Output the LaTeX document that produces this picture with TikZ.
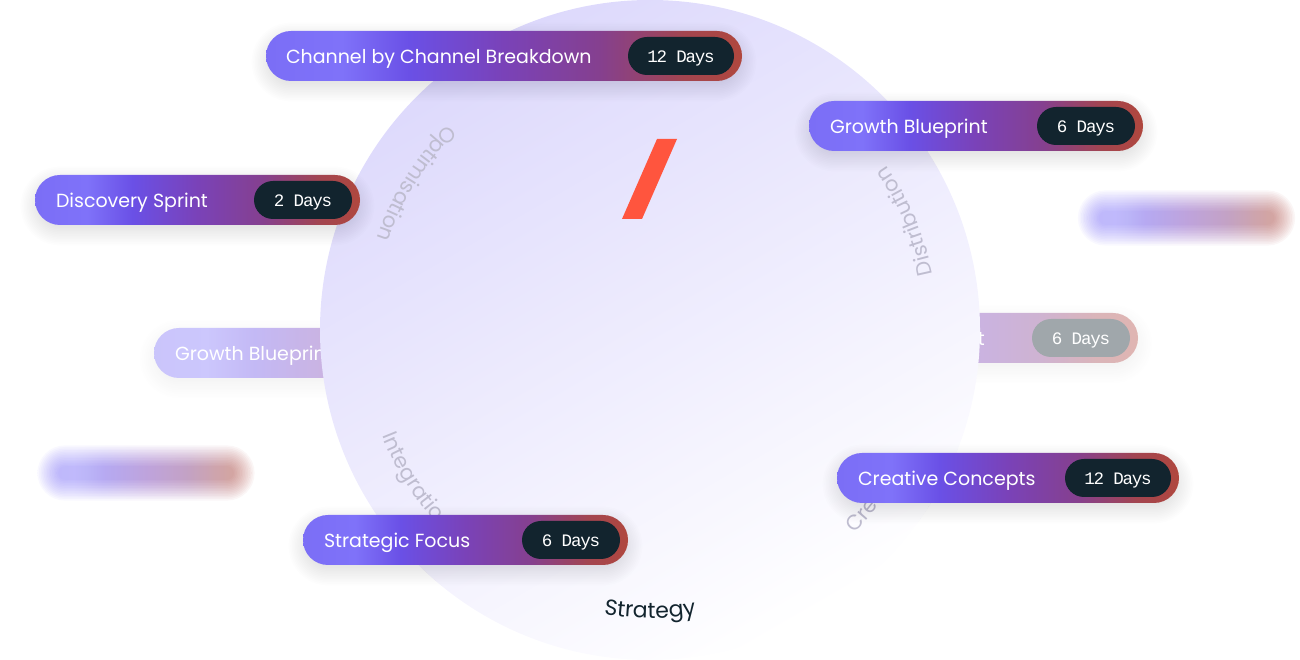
\documentclass[tikz,border=0pt]{standalone}
\usepackage{fontspec}
\setmainfont{Poppins}
\newfontfamily\daysfont[LetterSpace=-7]{Liberation Mono}
\usepackage{xcolor}
\usepackage{tikz}
\usetikzlibrary{positioning,decorations.text}

\definecolor{pillA}{HTML}{7B6EF6}
\definecolor{pillB}{HTML}{7F72F9}
\definecolor{pillC}{HTML}{6A50E6}
\definecolor{pillD}{HTML}{7A42B8}
\definecolor{pillE}{HTML}{85408F}
\definecolor{pillF}{HTML}{A3454F}
\definecolor{pillG}{HTML}{B0473E}
\definecolor{badgedark}{HTML}{12242E}
\definecolor{discA}{HTML}{DDD9FC}
\definecolor{slashred}{HTML}{FF553E}
\definecolor{arcgrey}{HTML}{BFBDD0}

\pgfdeclarehorizontalshading{pillfade}{100bp}{
  color(0bp)=(pillA); color(25bp)=(pillA); color(33bp)=(pillB); color(40bp)=(pillC);
  color(50bp)=(pillD); color(60bp)=(pillE); color(69bp)=(pillF); color(75bp)=(pillG); color(100bp)=(pillG)}

% soft stack of translucent pills: cx, cy, w, h, steps, options
\newcommand{\softstack}[6]{
  \foreach \k in {1,...,#5} {
    \pgfmathsetmacro{\stackw}{#3+2*(#5/2-\k)*1.6}
    \pgfmathsetmacro{\stackh}{#4+2*(#5/2-\k)*1.6}
    \pgfmathsetmacro{\stackr}{\stackh/2-0.1}
    \path[#6, rounded corners=\stackr pt] (#1-\stackw/2,#2-\stackh/2) rectangle (#1+\stackw/2,#2+\stackh/2);
  }
}

\begin{document}
\begin{tikzpicture}[
  x=1pt, y=1pt,
  pill/.style={shade, shading=pillfade, rounded corners=25pt, minimum height=50pt, inner sep=0pt},
  pilltext/.style={text=white, inner sep=0pt, text height=14.6pt, text depth=0pt, font=\fontsize{19}{22}\selectfont},
  badge/.style={fill=badgedark, text=white, rounded corners=19pt, minimum height=38pt, inner sep=0pt, text height=13.4pt, text depth=0pt, font=\daysfont\fontsize{17.5}{20}\selectfont},
  shadowlayer/.style={fill=black, opacity=0.0095},
  glowlayer/.style={shade, shading=pillfade, opacity=0.048},
  arclabel/.style={decorate, decoration={text along path, text align=center, text={|\color{arcgrey}\fontsize{21}{24}\selectfont|#1}}}
]
  \useasboundingbox (0,0) rectangle (1300,660);

  % Blurred pills
  \softstack{1186.5}{442}{198}{36}{14}{glowlayer}
  \softstack{146}{187}{198}{36}{14}{glowlayer}

  % Faded pills, behind the disc
  \begin{scope}[transparency group, opacity=0.4]
    \softstack{971}{316}{334}{50}{20}{shadowlayer}
    \node[pill, minimum width=334pt] (sprintpill) at (971,322) {};
    \node[pilltext, right=23pt of sprintpill.west] (sprinttext) {Growth Blueprint};
    \node[badge, left=8pt of sprintpill.east, minimum width=98pt] (sprintdays) {6 Days};
  \end{scope}
  \begin{scope}[transparency group, opacity=0.4]
    \softstack{321}{301}{334}{50}{20}{shadowlayer}
    \node[pill, minimum width=334pt] (growthpill) at (321,307) {};
    \node[pilltext, right=21pt of growthpill.west] (growthtext) {Growth Blueprint};
  \end{scope}

  % Disc
  \node[circle, shade, top color=discA, bottom color=white, shading angle=30, minimum size=660pt, inner sep=0pt] (disc) at (650,330) {};
  \fill[slashred] (657,521) -- (677,521) -- (642,441) -- (622,441) -- cycle;

  % Arc labels
  \path[arclabel=Optimisation] (disc.center) ++(108:288) arc (108:188:288);
  \path[arclabel=Integration] (disc.center) ++(173:288) arc (173:253:288);
  \path[decorate, decoration={text along path, text align=center, text={|\color{badgedark}\fontsize{22}{24}\selectfont|Strategy}}] (disc.center) ++(230:288) arc (230:310:288);
  \path[arclabel=Creative] (disc.center) ++(284:288) arc (284:364:288);
  \path[arclabel=Distribution] (disc.center) ++(-17:288) arc (-17:63:288);

  % Pills
  \softstack{504}{598}{476}{50}{20}{shadowlayer}
  \node[pill, minimum width=476pt] (channelpill) at (504,604) {};
  \node[pilltext, right=20pt of channelpill.west] (channeltext) {Channel by Channel Breakdown};
  \node[badge, left=8pt of channelpill.east, minimum width=106pt] (channeldays) {12 Days};

  \softstack{976}{528}{334}{50}{20}{shadowlayer}
  \node[pill, minimum width=334pt] (blueprintpill) at (976,534) {};
  \node[pilltext, right=21pt of blueprintpill.west] (blueprinttext) {Growth Blueprint};
  \node[badge, left=8pt of blueprintpill.east, minimum width=98pt] (blueprintdays) {6 Days};

  \softstack{197.5}{454}{325}{50}{20}{shadowlayer}
  \node[pill, minimum width=325pt] (discoverypill) at (197.5,460) {};
  \node[pilltext, right=21pt of discoverypill.west] (discoverytext) {Discovery Sprint};
  \node[badge, left=8pt of discoverypill.east, minimum width=98pt] (discoverydays) {2 Days};

  \softstack{1008}{176}{342}{50}{20}{shadowlayer}
  \node[pill, minimum width=342pt] (creativepill) at (1008,182) {};
  \node[pilltext, right=21pt of creativepill.west] (creativetext) {Creative Concepts};
  \node[badge, left=8pt of creativepill.east, minimum width=106pt] (creativedays) {12 Days};

  \softstack{465.5}{114}{325}{50}{20}{shadowlayer}
  \node[pill, minimum width=325pt] (focuspill) at (465.5,120) {};
  \node[pilltext, right=21pt of focuspill.west] (focustext) {Strategic Focus};
  \node[badge, left=8pt of focuspill.east, minimum width=98pt] (focusdays) {6 Days};
\end{tikzpicture}
\end{document}
